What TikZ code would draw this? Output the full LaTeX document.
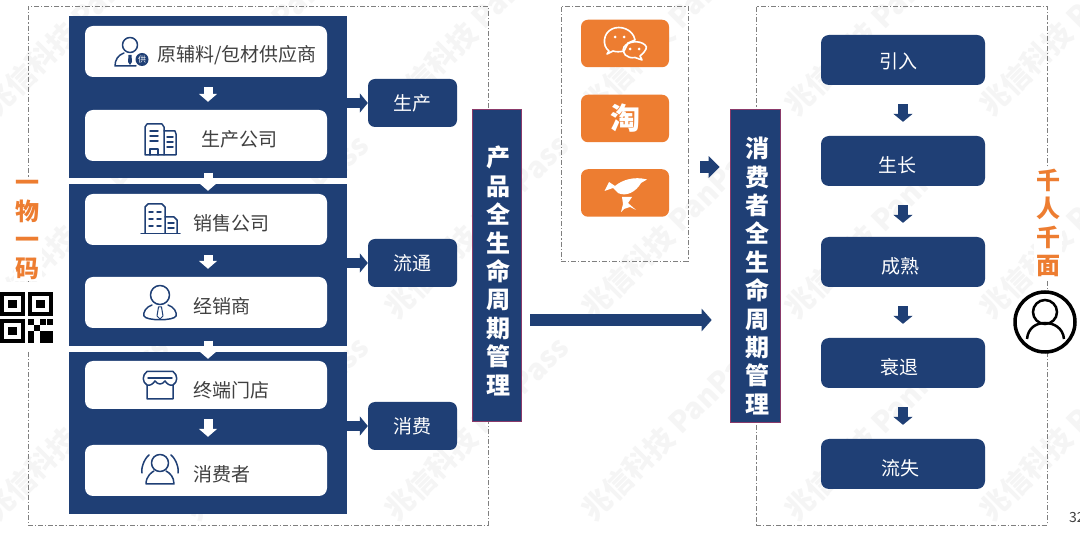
\documentclass[tikz,border=0pt]{standalone}
\usepackage{fontspec}
\setmainfont{Noto Sans CJK SC}
\usetikzlibrary{arrows.meta,calc}
\definecolor{navy}{HTML}{1F3F75}
\definecolor{orng}{HTML}{ED7D31}
\definecolor{txt}{HTML}{404040}
\definecolor{dashc}{HTML}{7F7F7F}
\definecolor{wm}{HTML}{F5F5F5}
\definecolor{barline}{HTML}{8A3A6A}
\tikzset{
  x=1pt,y=-1pt,
  dashbox/.style={draw=dashc,line width=.9pt,dash pattern=on 5pt off 2pt on 1.2pt off 2pt},
  block/.style={fill=navy,minimum width=278pt,minimum height=162.5pt,inner sep=0},
  wbox/.style={fill=white,rounded corners=8pt,minimum width=242pt,minimum height=51pt,inner sep=0},
  lab/.style={fill=navy,rounded corners=7pt,minimum width=89pt,minimum height=48pt,inner sep=0,text=white,font=\fontsize{19}{19}\selectfont},
  stage/.style={fill=navy,rounded corners=8pt,minimum width=164pt,minimum height=50pt,inner sep=0},
  stagetx/.style={inner sep=0,text=white,font=\fontsize{19}{19}\selectfont},
  obox/.style={fill=orng,rounded corners=7pt,minimum width=88pt,minimum height=47.5pt,inner sep=0},
  bar/.style={fill=navy,draw=barline,line width=.6pt,minimum width=49pt,minimum height=312pt,inner sep=0},
  bartx/.style={inner sep=0,text=white,align=center,font=\fontsize{24}{28.4}\bfseries\selectfont},
  side/.style={text=orng,fill=white,inner sep=2pt,align=center,font=\fontsize{24}{28.5}\bfseries\selectfont},
  tx/.style={text=txt,anchor=west,inner sep=0,font=\fontsize{19}{19}\selectfont},
  warrow/.style={draw=white,line width=9pt,-{Triangle[length=8pt,width=18pt]}},
  narrow/.style={draw=navy,line width=9.5pt,-{Triangle[length=8pt,width=19pt]}},
  icon/.style={draw=navy,line width=1.5pt,line join=round,line cap=round},
  wmark/.style={text=wm,rotate=45,anchor=west,inner sep=0,font=\fontsize{29}{29}\bfseries\selectfont}
}
\begin{document}
\begin{tikzpicture}
\useasboundingbox (0,0) rectangle (1080,534);
\fill[white] (0,0) rectangle (1080,534);
% watermarks
\foreach \a in {-10,190,390,587,790,985}
  \foreach \b in {110,313,515}
    \node[wmark] at (\a,\b) {兆信科技 PanPass};
% dashed frames
\node[dashbox,minimum width=460pt,minimum height=519pt,inner sep=0] (leftframe) at (258,265.5) {};
\node[dashbox,minimum width=127pt,minimum height=255pt,inner sep=0] (midframe) at (624.5,133.5) {};
\node[dashbox,minimum width=291pt,minimum height=519pt,inner sep=0] (rightframe) at (901.5,265.5) {};
% left blocks
\node[block] (b1) at (208,97.25) {};
\node[block] (b2) at (208,265.25) {};
\node[block] (b3) at (208,433.25) {};
\node[wbox] (w1) at (206,51.5) {};
\node[wbox] (w2) at (206,135.5) {};
\node[wbox] (w3) at (206,219.5) {};
\node[wbox] (w4) at (206,302.5) {};
\node[wbox,minimum height=48pt] (w5) at (206,385) {};
\node[wbox] (w6) at (206,470.5) {};
\node[tx] (t1) at (157,55) {原辅料/包材供应商};
\node[tx] (t2) at (201,139) {生产公司};
\node[tx] (t3) at (193,223) {销售公司};
\node[tx] (t4) at (193,306.5) {经销商};
\node[tx] (t5) at (193,390) {终端门店};
\node[tx] (t6) at (193,474) {消费者};
\draw[warrow,shorten <=10pt,shorten >=8pt] ($(w1.south)+(2,0)$) -- ($(w2.north)+(2,0)$);
\draw[warrow,shorten <=10pt,shorten >=8pt] ($(w3.south)+(2,0)$) -- ($(w4.north)+(2,0)$);
\draw[warrow,shorten <=10pt,shorten >=8pt] ($(w5.south)+(2,0)$) -- ($(w6.north)+(2,0)$);
\draw[warrow,shorten <=-6pt,shorten >=-7pt] (b1.south) -- (b2.north);
\draw[warrow,shorten <=-6pt,shorten >=-7pt] (b2.south) -- (b3.north);
% labels
\node[lab] (l1) at (412.5,103) {生产};
\node[lab] (l2) at (412.5,263) {流通};
\node[lab] (l3) at (412.5,426) {消费};
\draw[narrow] (b1.east |- l1) -- (l1.west);
\draw[narrow] (b2.east |- l2) -- (l2.west);
\draw[narrow] (b3.east |- l3) -- (l3.west);
% bars
\node[bar] (bar1) at (496.5,265) {};
\node[bar,minimum width=50pt,minimum height=313pt] (bar2) at (755,265.5) {};
\node[bartx] (bar1t) at (498.5,271) {产\\品\\全\\生\\命\\周\\期\\管\\理};
\node[bartx] (bar2t) at (757,276) {消\\费\\者\\全\\生\\命\\周\\期\\管\\理};
\coordinate (bigy) at (620,320);
\coordinate (smally) at (710,167);
\draw[navy,line width=11.5pt,-{Triangle[length=10pt,width=22pt]},shorten <=9pt,shorten >=18pt] (bar1.east |- bigy) -- (bar2.west |- bigy);
\draw[navy,line width=12pt,-{Triangle[length=11pt,width=21pt]},shorten <=12pt,shorten >=10pt] (midframe.east |- smally) -- (bar2.west |- smally);
% orange apps
\node[obox] (o1) at (625,43.5) {};
\node[obox,text=white,font=\fontsize{30}{30}\bfseries\selectfont] (o2) at (625,118.5) {淘};
\node[obox] (o3) at (625,193) {};
% wechat
\draw[white,line width=1.6pt,line join=round] (609,51) .. controls (602,46) and (603,33) .. (612,29) .. controls (620,25) and (633,29) .. (635,40) -- (628,43) -- (624,51) .. controls (620,52) and (616,52) .. (613,51) -- (607,54) -- cycle;
\draw[white,line width=1.6pt,line join=round] (640,56) .. controls (646,51) and (648,47) .. (645,45) .. controls (640,40) and (628,41) .. (624,47) .. controls (621,53) and (627,59) .. (635,57.5) -- (642,60) -- cycle;
\foreach \p in {(615,37),(624,37),(630,49),(639,49)} \fill[white] \p circle (1.5);
% bird
\fill[white] (604.5,191) -- (609,182) -- (615,186) .. controls (622,180) and (634,176) .. (647,179.5) -- (641,183) .. controls (636,192) and (626,197) .. (618,193) -- (613,188) -- cycle;
\fill[white] (622,197) -- (632,197) -- (628,203) -- (636,210) -- (630,207) -- (624,209) -- (621,212) -- (623,204) -- cycle;
% stages
\node[stage] (s1) at (903,60) {};
\node[stage] (s2) at (903,161) {};
\node[stage] (s3) at (903,262) {};
\node[stage] (s4) at (903,363) {};
\node[stage] (s5) at (903,464) {};
\node[stagetx] (s1t) at (898,61) {引入};
\node[stagetx] (s2t) at (897,165) {生长};
\node[stagetx] (s3t) at (900,266) {成熟};
\node[stagetx] (s4t) at (899,367) {衰退};
\node[stagetx] (s5t) at (900,468) {流失};
\foreach \u/\v in {s1/s2,s2/s3,s3/s4,s4/s5}
  \draw[narrow,shorten <=19pt,shorten >=14pt] (\u.south) -- (\v.north);
% side captions
\node[side] (yi) at (28,230) {一\\物\\一\\码};
\node[side] (qian) at (1048,223) {千\\人\\千\\面};
% QR
\fill[white] (0,282) rectangle (56,350);
\foreach \xx/\yy in {0/292,28/292,0/319}{
  \fill[black] (\xx,\yy) rectangle +(25,24.5);
  \fill[white] (\xx+4,\yy+4) rectangle +(17,16.5);
  \fill[black] (\xx+8,\yy+8) rectangle +(9,8.5);
}
\foreach \xx/\yy/\w/\h in {28/319/6/6,40/319/6/6,47/319/6/6,34/325/6/6,28/331/6/12,40/331/7/6,47/331/6/12,40/337/13/6}
  \fill[black] (\xx,\yy) rectangle +(\w,\h);
% face
\node[draw=black,fill=white,line width=3.5pt,circle,minimum size=60pt,inner sep=0] (face) at (1045,322) {};
\draw[black,line width=2.5pt] (1045,312) circle (12);
\draw[black,line width=2.5pt] (1027,339) .. controls (1028,328) and (1036,323) .. (1045,323) .. controls (1054,323) and (1063,328) .. (1064,339);
% page number
\node[anchor=west,inner sep=0,text=txt,font=\fontsize{14}{14}\selectfont] (pg) at (1069,518) {32};
% icons
% supplier
\draw[icon] (130,45) circle (7.5);
\draw[icon] (124,53) .. controls (118,55) and (115,60) .. (115,66) -- (136,66);
\fill[navy] (128.5,55) -- (131.5,55) -- (132,62) -- (130,65) -- (128,62) -- cycle;
\fill[navy] (142,59.5) circle (6.5);
\node[text=white,inner sep=0,font=\fontsize{8}{8}\selectfont] (gong) at (142,59.5) {供};
% factory building
\draw[icon] (145,155) -- (145,127) -- (147,124) -- (162,124) -- (164,127) -- (164,155) -- cycle;
\draw[icon] (164,131) -- (175,131) -- (176,134) -- (176,155) -- (164,155);
\draw[icon] (150,155) -- (150,149) -- (158,149) -- (158,155);
\foreach \yy in {131,136,141} \draw[icon] (150,\yy) -- (158,\yy);
\foreach \yy in {137,142,147} \draw[icon] (167,\yy) -- (173,\yy);
% sales building
\draw[icon] (141,233.5) -- (180,233.5);
\draw[icon] (145,233) -- (145,207) -- (148,204) -- (162,204) -- (165,207) -- (165,233);
\draw[icon] (165,217) -- (174,217) -- (177,220) -- (177,233);
\foreach \yy in {212,219,226} {\draw[icon] (149,\yy) -- (153,\yy); \draw[icon] (157,\yy) -- (161,\yy);}
\foreach \yy in {223,228} \draw[icon] (168,\yy) -- (174,\yy);
% dealer
\draw[icon] (160,295) circle (9.5);
\draw[icon] (152,305) .. controls (146,307) and (143,312) .. (144,316) .. controls (146,321) and (174,321) .. (176,316) .. controls (177,312) and (174,307) .. (168,305);
\draw[icon,line width=1pt] (158.5,307) -- (161.5,307) -- (163,316) -- (160,319) -- (157,316) -- cycle;
% store
\draw[icon] (147,385) .. controls (142,382) and (142,375) .. (147,371.5) -- (173,371.5) .. controls (178,375) and (178,382) .. (173,385) .. controls (170,386) and (167,384) .. (165,381) .. controls (162,385) and (158,385) .. (155,381) .. controls (153,384) and (150,386) .. (147,385) -- (147,399) -- (173,399) -- (173,385);
\draw[icon] (148,378) -- (172,378);
% consumers
\draw[icon] (160,463) circle (8.5);
\draw[icon] (146,484) .. controls (146,476) and (152,472) .. (154,471) (166,471) .. controls (170,473) and (174,477) .. (174,484) -- (146,484);
\draw[icon] (149,455) .. controls (143,460) and (141,470) .. (142,473) (171,455) .. controls (177,460) and (179,470) .. (178,473);
\end{tikzpicture}
\end{document}
